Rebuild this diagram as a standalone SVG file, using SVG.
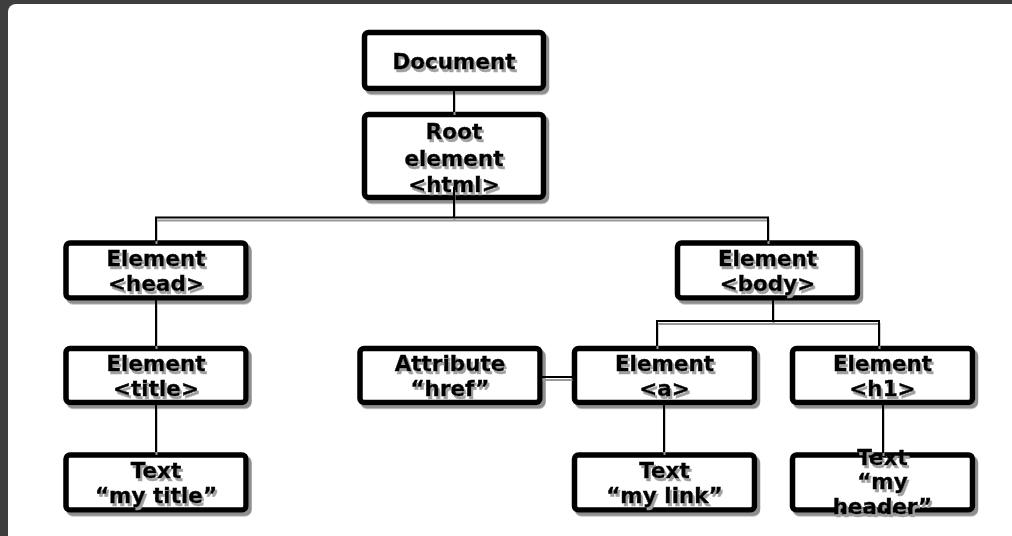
<svg xmlns="http://www.w3.org/2000/svg" width="1012" height="536" viewBox="0 0 1012 536">
<defs>
<filter id="bs" x="-10%" y="-10%" width="130%" height="130%"><feDropShadow dx="3" dy="3.5" stdDeviation="0.6" flood-color="#8f8f8f" flood-opacity="1"/></filter>
<filter id="ts" x="-10%" y="-20%" width="130%" height="150%"><feDropShadow dx="2" dy="3" stdDeviation="0.5" flood-color="#a0a0a0" flood-opacity="1"/></filter>
<filter id="ls" x="-20%" y="-20%" width="140%" height="140%"><feDropShadow dx="0.5" dy="3" stdDeviation="0.3" flood-color="#999" flood-opacity="1"/></filter>
</defs>
<style>
.box{fill:#fff;stroke:#000;stroke-width:5.5}
.t{font-family:"DejaVu Sans",Verdana,sans-serif;font-weight:bold;font-size:21.5px;text-anchor:middle;fill:#000;stroke:#000;stroke-width:0.4}
.c{stroke:#000;stroke-width:2;fill:none}
</style>
<rect x="0" y="0" width="1012" height="536" fill="#3e3e3e"/>
<rect x="8" y="4" width="1012" height="540" rx="8" fill="#fff"/>

<g id="n-document"><rect class="box" filter="url(#bs)" x="364.5" y="32.5" width="179" height="56" rx="4"/><text class="t" filter="url(#ts)" x="454" y="69">Document</text></g>
<g id="n-root"><rect class="box" filter="url(#bs)" x="364.5" y="114.5" width="179" height="83" rx="4"/><text class="t" filter="url(#ts)" x="454"><tspan x="454" y="139">Root</tspan><tspan x="454" y="166">element</tspan><tspan x="454" y="192">&lt;html&gt;</tspan></text></g>
<g id="n-head"><rect class="box" filter="url(#bs)" x="66" y="243" width="180" height="55" rx="4"/><text class="t" filter="url(#ts)" x="156"><tspan x="156" y="266">Element</tspan><tspan x="156" y="291">&lt;head&gt;</tspan></text></g>
<g id="n-body"><rect class="box" filter="url(#bs)" x="677.5" y="243" width="180" height="55" rx="4"/><text class="t" filter="url(#ts)" x="767.5"><tspan x="767.5" y="266">Element</tspan><tspan x="767.5" y="291">&lt;body&gt;</tspan></text></g>
<g id="n-title"><rect class="box" filter="url(#bs)" x="66" y="348.5" width="180" height="54" rx="4"/><text class="t" filter="url(#ts)" x="156"><tspan x="156" y="371">Element</tspan><tspan x="156" y="396">&lt;title&gt;</tspan></text></g>
<g id="n-attr"><rect class="box" filter="url(#bs)" x="360" y="348.5" width="180" height="54" rx="4"/><text class="t" filter="url(#ts)" x="450"><tspan x="450" y="371">Attribute</tspan><tspan x="450" y="396">“href”</tspan></text></g>
<g id="n-a"><rect class="box" filter="url(#bs)" x="574.5" y="348.5" width="180" height="54" rx="4"/><text class="t" filter="url(#ts)" x="664.5"><tspan x="664.5" y="371">Element</tspan><tspan x="664.5" y="396">&lt;a&gt;</tspan></text></g>
<g id="n-h1"><rect class="box" filter="url(#bs)" x="792.5" y="348.5" width="180" height="54" rx="4"/><text class="t" filter="url(#ts)" x="882.5"><tspan x="882.5" y="371">Element</tspan><tspan x="882.5" y="396">&lt;h1&gt;</tspan></text></g>
<g id="n-text-title"><rect class="box" filter="url(#bs)" x="66" y="455" width="180" height="55" rx="4"/><text class="t" filter="url(#ts)" x="156"><tspan x="156" y="478">Text</tspan><tspan x="156" y="503">“my title”</tspan></text></g>
<g id="n-text-link"><rect class="box" filter="url(#bs)" x="574.5" y="455" width="180" height="55" rx="4"/><text class="t" filter="url(#ts)" x="664.5"><tspan x="664.5" y="478">Text</tspan><tspan x="664.5" y="503">“my link”</tspan></text></g>
<g id="n-text-header"><rect class="box" filter="url(#bs)" x="792.5" y="455" width="180" height="55" rx="4"/><text class="t" filter="url(#ts)" x="882.5"><tspan x="882.5" y="465">Text</tspan><tspan x="882.5" y="489">“my</tspan><tspan x="882.5" y="514">header”</tspan></text></g>

<g id="connectors" filter="url(#ls)">
<path class="c" d="M454 91V112"/>
<path class="c" d="M454 187V217.5M156 241V217.5H768V241"/>
<path class="c" d="M156 300V346M156 405V452"/>
<path class="c" d="M773 300V321H657V346M773 321H879V346"/>
<path class="c" d="M542 377H572"/>
<path class="c" d="M664 405V452M883 405V453"/>
</g>
</svg>
